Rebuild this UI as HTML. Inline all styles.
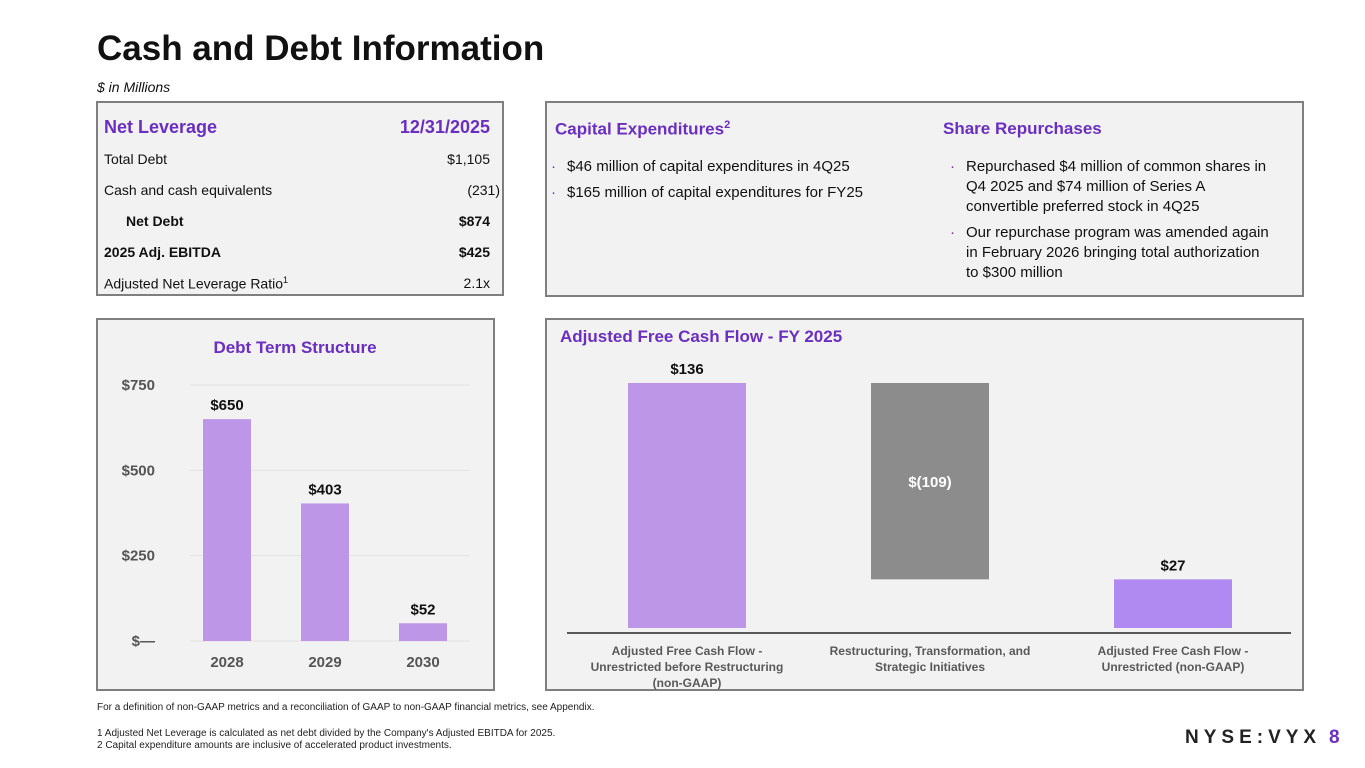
<!DOCTYPE html>
<html><head><meta charset="utf-8"><style>
body{margin:0;width:1365px;height:768px;background:#fff;font-family:"Liberation Sans",sans-serif;position:relative;overflow:hidden;color:#111}
.abs{position:absolute}
.box{position:absolute;background:#f2f2f2;border:2px solid #7f7f7f;box-sizing:border-box}
.row{position:absolute;left:6px;right:12px;font-size:14px;display:flex;justify-content:space-between}
.ph{color:#6a2fc0;font-weight:bold;font-size:17px}
ul{margin:0;padding:0;list-style:none}
li{position:relative;padding-left:22px;font-size:15px;line-height:20px;margin-bottom:6px}
li:before{content:"·";position:absolute;left:6px;color:#6a2fc0}
.foot{font-size:10px;color:#222}
</style></head><body>
<div class="abs" style="left:97px;top:29px;font-size:35px;font-weight:bold">Cash and Debt Information</div>
<div class="abs" style="left:97px;top:79px;font-size:14px;font-style:italic">$ in Millions</div>

<div class="box" style="left:96px;top:101px;width:408px;height:195px">
 <div class="row ph" style="top:14px;font-size:18px"><span>Net Leverage</span><span>12/31/2025</span></div>
 <div class="row" style="top:48px"><span>Total Debt</span><span>$1,105</span></div>
 <div class="row" style="top:79px;right:2px"><span>Cash and cash equivalents</span><span>(231)</span></div>
 <div class="row" style="top:110px;font-weight:bold"><span style="padding-left:22px">Net Debt</span><span>$874</span></div>
 <div class="row" style="top:141px;font-weight:bold"><span>2025 Adj. EBITDA</span><span>$425</span></div>
 <div class="row" style="top:172px"><span>Adjusted Net Leverage Ratio<sup style="font-size:9px">1</sup></span><span>2.1x</span></div>
</div>

<div class="box" style="left:545px;top:101px;width:759px;height:196px">
 <div class="abs ph" style="left:8px;top:16px">Capital Expenditures<sup style="font-size:11px">2</sup></div>
 <ul class="abs" style="left:-2px;top:54px;width:380px">
  <li>$46 million of capital expenditures in 4Q25</li>
  <li>$165 million of capital expenditures for FY25</li>
 </ul>
 <div class="abs ph" style="left:396px;top:16px">Share Repurchases</div>
 <ul class="abs" style="left:397px;top:54px;width:325px">
  <li>Repurchased $4 million of common shares in Q4 2025 and $74 million of Series A convertible preferred stock in 4Q25</li>
  <li>Our repurchase program was amended again in February 2026 bringing total authorization to $300 million</li>
 </ul>
</div>

<div class="box" style="left:96px;top:318px;width:399px;height:373px"></div>
<div class="box" style="left:545px;top:318px;width:759px;height:373px"></div>

<svg class="abs" style="left:0;top:0" width="1365" height="768">
 <text x="295" y="353" text-anchor="middle" font-size="17" font-weight="bold" fill="#6a2fc0">Debt Term Structure</text>
 <g id="debt"></g>
 <text x="560" y="342" font-size="17" font-weight="bold" fill="#6a2fc0">Adjusted Free Cash Flow - FY 2025</text>
 <g id="fcf"></g>
</svg>

<div class="abs foot" style="left:97px;top:702px">For a definition of non-GAAP metrics and a reconciliation of GAAP to non-GAAP financial metrics, see Appendix.</div>
<div class="abs foot" style="left:97px;top:728px;line-height:12px">1 Adjusted Net Leverage is calculated as net debt divided by the Company's Adjusted EBITDA for 2025.<br>2 Capital expenditure amounts are inclusive of accelerated product investments.</div>
<div class="abs" style="left:1185px;top:727px;font-size:19px;font-weight:bold;letter-spacing:5px;color:#222">NYSE:VYX</div>
<div class="abs" style="left:1329px;top:727px;font-size:19px;font-weight:bold;color:#6a2fc0">8</div>

<script>
const debtYears=["2028","2029","2030"];
const debtValues=[650,403,52];
const debtLabels=["$650","$403","$52"];
const debtTicks=[0,250,500,750];
const debtTickLabels=["$—","$250","$500","$750"];
const fcfCategories=[["Adjusted Free Cash Flow -","Unrestricted before Restructuring","(non-GAAP)"],["Restructuring, Transformation, and","Strategic  Initiatives"],["Adjusted Free Cash Flow -","Unrestricted  (non-GAAP)"]];
const fcfValues=[136,-109,27];
const fcfLabels=["$136","$(109)","$27"];
const NS="http://www.w3.org/2000/svg";
function mk(p,t,a,txt){const e=document.createElementNS(NS,t);for(const k in a)e.setAttribute(k,a[k]);if(txt!==undefined)e.textContent=txt;p.appendChild(e);return e;}
const dg=document.getElementById('debt');
const dy=v=>641-v*(256/750);
const dx=i=>227+i*98;
debtTicks.forEach((t,i)=>{
 const l=mk(dg,'line',{x1:190,x2:470,y1:dy(t),y2:dy(t),stroke:'#e3e3e3','stroke-width':1});
 
 
 const tx=mk(dg,'text',{x:155,y:dy(t)+5,'text-anchor':'end','font-size':15,'font-weight':'bold',fill:'#555'},debtTickLabels[i]);
 
 
});
debtValues.forEach((v,i)=>{
 const r=mk(dg,'rect',{x:dx(i)-24,y:dy(v),width:48,height:dy(0)-dy(v),fill:'#bd96e8'});
 
 
 const t=mk(dg,'text',{x:dx(i),y:dy(v)-9,'text-anchor':'middle','font-size':15,'font-weight':'bold',fill:'#111'},debtLabels[i]);
 
 
 const c=mk(dg,'text',{x:dx(i),y:667,'text-anchor':'middle','font-size':15,'font-weight':'bold',fill:'#555'},debtYears[i]);
 
 
});
const fg=document.getElementById('fcf');
const fy=v=>628-v*(245/136);
const fx=i=>687+i*243;
const ax=mk(fg,'line',{x1:567,x2:1291,y1:633,y2:633,stroke:'#595959','stroke-width':2});


let run=0;
fcfValues.forEach((v,i)=>{
 let a,b,fill;
 if(i===fcfValues.length-1){a=0;b=v;fill='#b08af0';}
 else if(v>=0){a=run;b=run+v;run+=v;fill='#bd96e8';}
 else{a=run+v;b=run;run+=v;fill='#8c8c8c';}
 const r=mk(fg,'rect',{x:fx(i)-59,y:fy(b),width:118,height:fy(a)-fy(b),fill:fill});
 
 
 const inside=v<0;
 const t=mk(fg,'text',{x:fx(i),y:inside?(fy(a)+fy(b))/2+6:fy(b)-9,'text-anchor':'middle','font-size':15,'font-weight':'bold',fill:inside?'#fff':'#111'},fcfLabels[i]);
 
 
 fcfCategories[i].forEach((line,j)=>{
  const c=mk(fg,'text',{x:fx(i),y:655+j*16,'text-anchor':'middle','font-size':12,'font-weight':'bold',fill:'#595959'},line);
  
  
 });
});
</script>
</body></html>
